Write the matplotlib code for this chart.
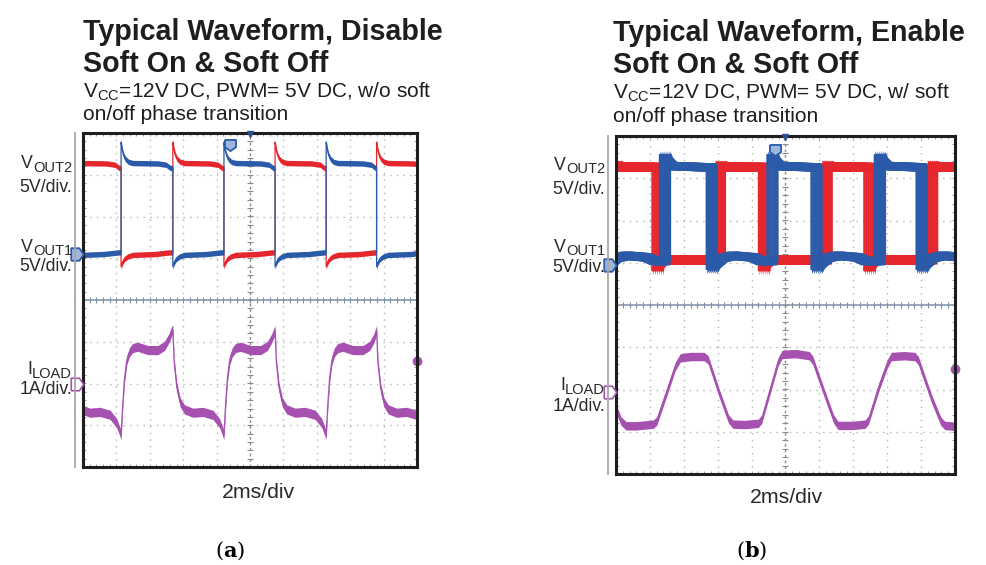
import numpy as np
import matplotlib.pyplot as plt
from matplotlib.path import Path
from matplotlib.lines import Line2D

plt.rcParams['font.family'] = ['Liberation Sans', 'DejaVu Sans']
plt.rcParams['mathtext.fontset'] = 'custom'
plt.rcParams['mathtext.rm'] = 'Liberation Sans'
plt.rcParams['mathtext.bf'] = 'DejaVu Serif:bold'

W, H = 987, 565
RED = '#e5262d'
BLUE = '#2a5aa8'
PURPLE = '#a650b0'
INK = '#1e1e1e'

# ---- capture (a): soft on/off disabled ----
# edge times in divisions; VOUT2 rises on even edges, VOUT1 on odd edges
a_edges = [-0.39, 1.14, 2.69, 4.22, 5.75, 7.28, 8.79, 10.32]
a_rise_dt = [0, 0.03, 0.07, 0.13, 0.22, 0.35, 1.1, 1.35, 1.48]
a_rise_v = [3.78, 3.62, 3.48, 3.38, 3.31, 3.28, 3.27, 3.24, 3.16]
a_fall_dt = [0, 0.04, 0.1, 0.2, 0.35, 1.0, 1.45]
a_fall_v = [0.8, 0.9, 0.98, 1.04, 1.08, 1.1, 1.14]
# load current, rises together with VOUT1
a_irise_dt = [0, 0.05, 0.1, 0.17, 0.25, 0.35, 0.5, 0.8, 1.1, 1.3, 1.43, 1.53]
a_irise_v = [-3.23, -2.5, -1.9, -1.45, -1.25, -1.15, -1.12, -1.2, -1.2, -1.1, -0.92, -0.72]
a_ifall_dt = [0, 0.04, 0.12, 0.22, 0.35, 0.6, 0.9, 1.2, 1.4, 1.53]
a_ifall_v = [-0.72, -1.5, -2.1, -2.45, -2.62, -2.7, -2.68, -2.75, -2.95, -3.23]

# ---- capture (b): soft on/off enabled ----
b_red_edges = [-0.15, 1.08, 2.92, 4.22, 6.07, 7.33, 9.18, 10.4]   # first edge rising
b_blue_edges = [-0.45, 1.3, 2.68, 4.47, 5.77, 7.64, 8.87, 10.6]  # first edge falling
b_jitter = [0, 0.06, 0.12, 0.18, 0.24, 0.29]
b_red_rise_dt = [0, 0.1, 1.2]
b_red_rise_v = [3.32, 3.28, 3.27]
b_red_fall_dt = [0, 0.05, 0.15, 1.7]
b_red_fall_v = [0.82, 1.0, 1.08, 1.08]
b_blue_rise_dt = [0, 0.08, 0.2, 1.2]
b_blue_rise_v = [3.55, 3.4, 3.3, 3.27]
b_blue_fall_dt = [0, 0.1, 0.3, 0.6, 1.2, 1.45]
b_blue_fall_v = [0.85, 0.98, 1.12, 1.18, 1.14, 1.05]
b_iload_t = [0.0, 0.15, 0.3, 0.6, 1.1, 1.2, 1.5, 1.75, 1.9, 2.2, 2.6, 2.72, 3.05, 3.32,
             3.45, 3.8, 4.2, 4.3, 4.55, 4.78, 4.9, 5.3, 5.7, 5.8, 6.15, 6.42, 6.55, 7.0,
             7.35, 7.45, 7.75, 8.0, 8.12, 8.5, 8.82, 8.92, 9.3, 9.58, 9.7, 10.0]
b_iload_v = [-2.45, -2.75, -2.86, -2.86, -2.82, -2.75, -2.05, -1.45, -1.25, -1.22, -1.22,
             -1.3, -2.1, -2.7, -2.82, -2.83, -2.8, -2.7, -2.0, -1.35, -1.17, -1.15, -1.2,
             -1.3, -2.1, -2.7, -2.85, -2.85, -2.82, -2.72, -1.95, -1.4, -1.22, -1.2,
             -1.22, -1.32, -2.2, -2.75, -2.85, -2.87]

# channel label text: (main, subscript)
ch_names = [('V', 'OUT2'), ('V', 'OUT1'), ('I', 'LOAD')]
ch_scales = ['5V/div.', '5V/div.', '1A/div.']


def build(edges, first_up, up_dt, up_v, dn_dt, dn_v, shift=0.0):
    t, v = [], []
    up = first_up
    for i in range(len(edges) - 1):
        e, nxt = edges[i] + shift, edges[i + 1] + shift
        dts, vals = (up_dt, up_v) if up else (dn_dt, dn_v)
        for d, val in zip(dts, vals):
            t.append(min(e + d, nxt))
            v.append(val)
        t.append(nxt)
        v.append(v[-1])
        up = not up
    return np.array(t), np.array(v)


def trace(ax, t, v, color, h, lw=0.9, z=3):
    ax.fill_between(t, v - h, v + h, color=color, lw=0, zorder=z)
    ax.plot(t, v, color=color, lw=lw, zorder=z)


def scope(ax):
    ax.set_xlim(0, 10)
    ax.set_ylim(-4, 4)
    ax.set_xticks([])
    ax.set_yticks([])
    ax.set_xticks(np.arange(0.2, 10, 0.2), minor=True)
    ax.set_yticks(np.arange(-3.8, 4, 0.2), minor=True)
    ax.tick_params(which='minor', direction='in', length=2.5, width=0.7,
                   colors='#9a9a9a', top=True, right=True)
    for s in ax.spines.values():
        s.set_linewidth(2.2)
        s.set_color(INK)
        s.set_zorder(6)
    for k in range(1, 10):
        if k != 5:
            ax.axvline(k, color='#b3b3b3', lw=1, ls=(0, (1, 3.8)), zorder=0)
    for k in range(-3, 4):
        if k != 0:
            ax.axhline(k, color='#b3b3b3', lw=1, ls=(0, (1, 3.8)), zorder=0)
    ax.axhline(0, color='#7d90a6', lw=1.1, zorder=0.5)
    ax.axvline(5, color='#8c8c8c', lw=1, ls=(0, (2, 2)), zorder=0.5)
    xs = np.arange(0.2, 10, 0.2)
    ax.plot(xs, np.zeros_like(xs), ls='none', marker='|', ms=4, mew=0.8,
            color='#7d90a6', zorder=0.5)
    ys = np.arange(-3.8, 4, 0.2)
    ax.plot(np.full_like(ys, 5), ys, ls='none', marker='_', ms=4, mew=0.8,
            color='#8c8c8c', zorder=0.5)
    ax.plot([5], [3.97], marker='v', ms=5, color='#2b4f8f', clip_on=False, zorder=7)


def px_axes(fig, x0, y0, x1, y1):
    return fig.add_axes([x0 / W, 1 - y1 / H, (x1 - x0) / W, (y1 - y0) / H])


def ftext(fig, x, y, s, **kw):
    return fig.text(x / W, 1 - y / H, s, **kw)


flag_right = Path([(-1, -1), (0.3, -1), (1, 0), (0.3, 1), (-1, 1), (-1, -1)])
flag_down = Path([(-1, 1), (1, 1), (1, -0.3), (0, -1), (-1, -0.3), (-1, 1)])

fig = plt.figure(figsize=(W / 100, H / 100), dpi=100)
renderer = fig.canvas.get_renderer()

panels = [
    dict(box=(83, 133, 417, 467), rule=75, tx=83, base=(39.5, 72, 97, 120.5),
         title='Typical Waveform, Disable', sub='w/o soft', lab_x=72,
         name_y=(168, 251.5, 374), scale_y=(192, 271, 394),
         div_x=258, div_y=498, tag_x=230,
         tag='a', v1_mark=1.1, i_mark=-2.0, trig=(4.4, 3.71), dot=-1.46),
    dict(box=(616, 136, 955, 474), rule=608, tx=613, base=(41, 73, 98.5, 122),
         title='Typical Waveform, Enable', sub='w/ soft', lab_x=605,
         name_y=(169.5, 251.5, 390.5), scale_y=(194, 272.5, 411),
         div_x=786, div_y=503, tag_x=752,
         tag='b', v1_mark=0.95, i_mark=-2.05, trig=(4.69, 3.67), dot=-1.51),
]

for k, p in enumerate(panels):
    x0, y0, x1, y1 = p['box']
    ax = px_axes(fig, x0, y0, x1, y1)
    scope(ax)

    if k == 0:
        tr, vr = build(a_edges, True, a_rise_dt, a_rise_v, a_fall_dt, a_fall_v)
        tb, vb = build(a_edges, False, a_rise_dt, a_rise_v, a_fall_dt, a_fall_v)
        ti, vi = build(a_edges, False, a_irise_dt, a_irise_v, a_ifall_dt, a_ifall_v)
        trace(ax, tr, vr, RED, 0.065)
        trace(ax, tb, vb, BLUE, 0.065)
        trace(ax, ti, vi, PURPLE, 0.11)
    else:
        for s in b_jitter:
            tr, vr = build(b_red_edges, True, b_red_rise_dt, b_red_rise_v,
                           b_red_fall_dt, b_red_fall_v, s)
            trace(ax, tr, vr, RED, 0.11, lw=1.8)
        for s in b_jitter:
            tb, vb = build(b_blue_edges, False, b_blue_rise_dt, b_blue_rise_v,
                           b_blue_fall_dt, b_blue_fall_v, s)
            trace(ax, tb, vb, BLUE, 0.1, lw=1.8, z=4)
        trace(ax, np.array(b_iload_t), np.array(b_iload_v), PURPLE, 0.1)

    # channel and trigger markers
    ax.plot([-0.17], [p['v1_mark']], marker=flag_right, ms=9, mfc='#9fb6dc',
            mec=BLUE, mew=1.3, clip_on=False, zorder=7)
    ax.plot([-0.17], [p['i_mark']], marker=flag_right, ms=9, mfc='white',
            mec=PURPLE, mew=1.2, clip_on=False, zorder=7)
    ax.plot([p['trig'][0]], [p['trig'][1]], marker=flag_down, ms=8, mfc='#9fb6dc',
            mec=BLUE, mew=1.3, zorder=7)
    ax.plot([10], [p['dot']], marker='o', ms=6, color=PURPLE, clip_on=False, zorder=5)

    # thin rule left of the screen
    fig.add_artist(Line2D([p['rule'] / W] * 2, [1 - y0 / H, 1 - y1 / H],
                          transform=fig.transFigure, color='#a8a8a8', lw=1.3))

    # headings
    b = p['base']
    ftext(fig, p['tx'], b[0], p['title'], fontsize=20.6, fontweight='bold',
          color=INK, va='baseline')
    ftext(fig, p['tx'], b[1], 'Soft On & Soft Off', fontsize=20.6,
          fontweight='bold', color=INK, va='baseline')
    ftext(fig, p['tx'], b[2],
          r'V$_{\mathregular{CC}}$=12V DC, PWM= 5V DC, ' + p['sub'],
          fontsize=15, color=INK, va='baseline')
    ftext(fig, p['tx'], b[3], 'on/off phase transition', fontsize=15,
          color=INK, va='baseline')

    # channel labels: subscript placed first, main letter set to its left
    for (main, subs), scale, ny, sy in zip(ch_names, ch_scales, p['name_y'], p['scale_y']):
        st = ftext(fig, p['lab_x'], ny + 3.5, subs, fontsize=10.5, color='#2a2a2a',
                   ha='right', va='baseline')
        w = st.get_window_extent(renderer).width
        ftext(fig, p['lab_x'] - w, ny, main, fontsize=12.8, color='#2a2a2a',
              ha='right', va='baseline')
        ftext(fig, p['lab_x'], sy, scale, fontsize=12.8, color='#2a2a2a',
              ha='right', va='baseline')

    ftext(fig, p['div_x'], p['div_y'], '2ms/div', fontsize=15.3, color='#2a2a2a',
          ha='center', va='baseline')
    fig.text(p['tag_x'] / W, 1 - 551 / H, r'(' + r'$\mathbf{' + p['tag'] + '}$' + ')',
             fontsize=15, family='DejaVu Serif', color='black',
             ha='center', va='center')

fig.savefig('out.png', dpi=100)
